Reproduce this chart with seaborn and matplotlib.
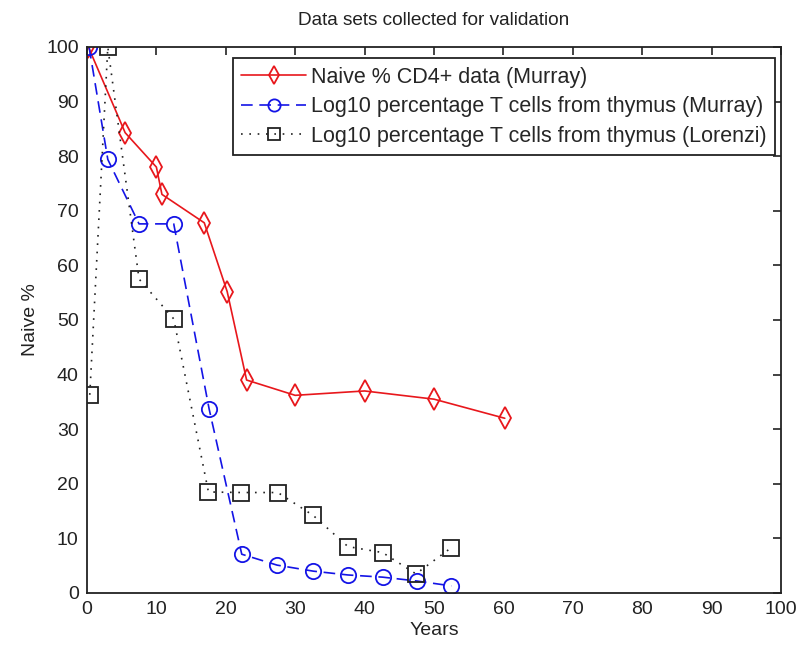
import matplotlib.pyplot as plt
import pandas as pd
import seaborn as sns

# Naive % CD4+ data (Murray)
murray_naive_years = [0.2, 5.5, 10, 10.8, 16.9, 20.2, 23, 30, 40, 50, 60.2]
murray_naive_pct = [100, 84.3, 78, 73, 67.8, 55.2, 39, 36.2, 37, 35.5, 32]

# Log10 percentage T cells from thymus (Murray)
murray_thymus_years = [0.3, 3, 7.5, 12.5, 17.6, 22.3, 27.4, 32.6, 37.6, 42.6, 47.5, 52.5]
murray_thymus_pct = [100, 79.4, 67.6, 67.6, 33.7, 7.1, 5.1, 4.0, 3.3, 2.9, 2.2, 1.3]

# Log10 percentage T cells from thymus (Lorenzi)
lorenzi_thymus_years = [0.4, 3, 7.5, 12.5, 17.5, 22.2, 27.5, 32.6, 37.6, 42.6, 47.4, 52.5]
lorenzi_thymus_pct = [36.3, 100, 57.5, 50.2, 18.5, 18.4, 18.4, 14.2, 8.5, 7.4, 3.5, 8.3]

labels = [
    "Naive % CD4+ data (Murray)",
    "Log10 percentage T cells from thymus (Murray)",
    "Log10 percentage T cells from thymus (Lorenzi)",
]


def main():
    sns.set_style("white")
    plt.rcParams["font.family"] = ["Liberation Sans", "DejaVu Sans"]

    fig = plt.figure(figsize=(8.01, 6.48), dpi=100)
    ax = fig.add_axes([0.1086, 0.0849, 0.8664, 0.8426])

    series = [
        (murray_naive_years, murray_naive_pct, "#e8171c", "-", "d", 11),
        (murray_thymus_years, murray_thymus_pct, "#1414e6", (0, (7, 4)), "o", 11),
        (lorenzi_thymus_years, lorenzi_thymus_pct, "#222222", (0, (1, 4)), "s", 11),
    ]
    for (xs, ys, color, ls, marker, ms), label in zip(series, labels):
        df = pd.DataFrame({"Years": xs, "Naive": ys})
        sns.lineplot(
            data=df,
            x="Years",
            y="Naive",
            ax=ax,
            color=color,
            linestyle=ls,
            linewidth=1.2,
            marker=marker,
            markersize=ms,
            markerfacecolor="none",
            markeredgecolor=color,
            markeredgewidth=1.3,
            sort=False,
            estimator=None,
            label=label,
        )

    ax.set_xlim(0, 100)
    ax.set_ylim(0, 100)
    ax.set_xticks(range(0, 101, 10))
    ax.set_yticks(range(0, 101, 10))
    ax.tick_params(
        direction="in", length=6, width=1.2, top=True, right=True,
        labelsize=14, colors="#222222", pad=6,
    )
    for spine in ax.spines.values():
        spine.set_color("#222222")
        spine.set_linewidth(1.3)

    ax.set_title("Data sets collected for validation", fontsize=13.7, color="#222222", pad=16)
    ax.set_xlabel("Years", fontsize=14, color="#222222", labelpad=3)
    ax.set_ylabel("Naive %", fontsize=14, color="#222222", labelpad=5)

    leg = ax.legend(
        loc="upper right",
        bbox_to_anchor=(0.9914, 0.98),
        borderaxespad=0,
        fontsize=15.5,
        markerscale=0.8,
        handlelength=3.0,
        handletextpad=0.22,
        labelspacing=0.4,
        borderpad=0.4,
        fancybox=False,
        framealpha=1,
        edgecolor="#222222",
    )
    leg.get_frame().set_linewidth(1.3)

    fig.savefig("out.png", dpi=100)


if __name__ == "__main__":
    main()
